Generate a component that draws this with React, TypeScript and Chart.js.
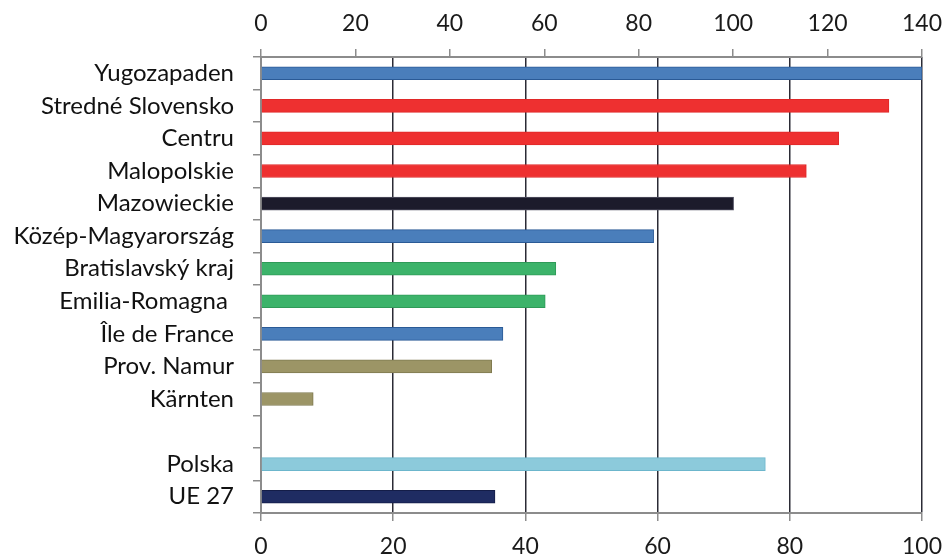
import React, { useEffect, useRef } from "react";
import { Chart, registerables } from "chart.js";

Chart.register(...registerables);

const categories = [
  "Yugozapaden",
  "Stredné Slovensko",
  "Centru",
  "Malopolskie",
  "Mazowieckie",
  "Közép-Magyarország",
  "Bratislavský kraj",
  "Emilia-Romagna ",
  "Île de France",
  "Prov. Namur",
  "Kärnten",
  "",
  "Polska",
  "UE 27",
];

const values: (number | null)[] = [100, 95.0, 87.4, 82.5, 71.5, 59.4, 44.6, 43.0, 36.6, 34.9, 7.9, null, 76.3, 35.4];

const barColors = [
  "#4a7ebb", "#ee3030", "#ee3030", "#ee3030", "#1c1b2b", "#4a7ebb",
  "#3cb36a", "#3cb36a", "#4a7ebb", "#9c9566", "#9c9566", "#ffffff",
  "#8ccadb", "#1f2c62",
];
const borderColors = [
  "#2a5a96", "#e02828", "#e02828", "#e02828", "#555566", "#2a5a96",
  "#2f9a58", "#2f9a58", "#2a5a96", "#7f7a50", "#7f7a50", "#ffffff",
  "#6cb6cc", "#141d48",
];

const bottomTicks = { min: 0, max: 100, step: 20 };
const topTicks = { min: 0, max: 140, step: 20 };

export default function App() {
  const ref = useRef<HTMLCanvasElement | null>(null);
  useEffect(() => {
    if (!ref.current) return;
    const font = "Lato, 'Open Sans', sans-serif";
    const chart = new Chart(ref.current, {
      type: "bar",
      data: {
        labels: categories,
        datasets: [
          {
            data: values,
            backgroundColor: barColors,
            borderColor: borderColors,
            borderWidth: 1,
            barThickness: 13,
            xAxisID: "x",
            yAxisID: "y",
          },
        ],
      },
      options: {
        indexAxis: "y",
        animation: false,
        responsive: false,
        maintainAspectRatio: false,
        layout: { padding: { left: 0, right: 27, top: 0, bottom: 0 } },
        plugins: { legend: { display: false }, tooltip: { enabled: false } },
        scales: {
          x: {
            type: "linear",
            position: "bottom",
            min: bottomTicks.min,
            max: bottomTicks.max,
            ticks: {
              stepSize: bottomTicks.step,
              color: "#1a1a1a",
              font: { family: font, size: 23 },
              padding: 12,
              maxRotation: 0,
            },
            grid: {
              color: (c: any) => (c.tick && (c.tick.value === 0) ? "#8c8c8c" : "#2b2b35"),
              tickColor: "#8c8c8c",
              lineWidth: 1.5,
              tickLength: 8,
            },
            border: { display: true, color: "#8c8c8c", width: 2 },
            afterFit: (s: any) => { s.height = 44; s.paddingRight = 0; s.paddingLeft = 0; },
          },
          x2: {
            type: "linear",
            position: "top",
            min: topTicks.min,
            max: topTicks.max,
            ticks: {
              stepSize: topTicks.step,
              color: "#1a1a1a",
              font: { family: font, size: 23 },
              padding: 12,
              maxRotation: 0,
            },
            grid: {
              drawOnChartArea: false,
              color: "#8c8c8c",
              tickColor: "#8c8c8c",
              lineWidth: 1.5,
              tickLength: 8,
            },
            border: { display: true, color: "#8c8c8c", width: 2 },
            afterFit: (s: any) => { s.height = 57; s.paddingRight = 0; s.paddingLeft = 0; },
          },
          y: {
            type: "category",
            ticks: {
              color: "#111111",
              font: { family: font, size: 24 },
              padding: 19,
              autoSkip: false,
            },
            grid: {
              offset: true,
              drawOnChartArea: false,
              color: "#8c8c8c",
              tickColor: "#8c8c8c",
              lineWidth: 1.5,
              tickLength: 8,
            },
            border: { display: true, color: "#8c8c8c", width: 2 },
            afterFit: (s: any) => { s.width = 261; s.paddingTop = 0; s.paddingBottom = 0; },
          },
        },
      },
    });
    return () => chart.destroy();
  }, []);
  return (
    <div style={{ position: "absolute", left: 0, top: 0, width: 949, height: 557, background: "#ffffff" }}>
      <canvas ref={ref} width={949} height={557} style={{ width: 949, height: 557 }} />
    </div>
  );
}
